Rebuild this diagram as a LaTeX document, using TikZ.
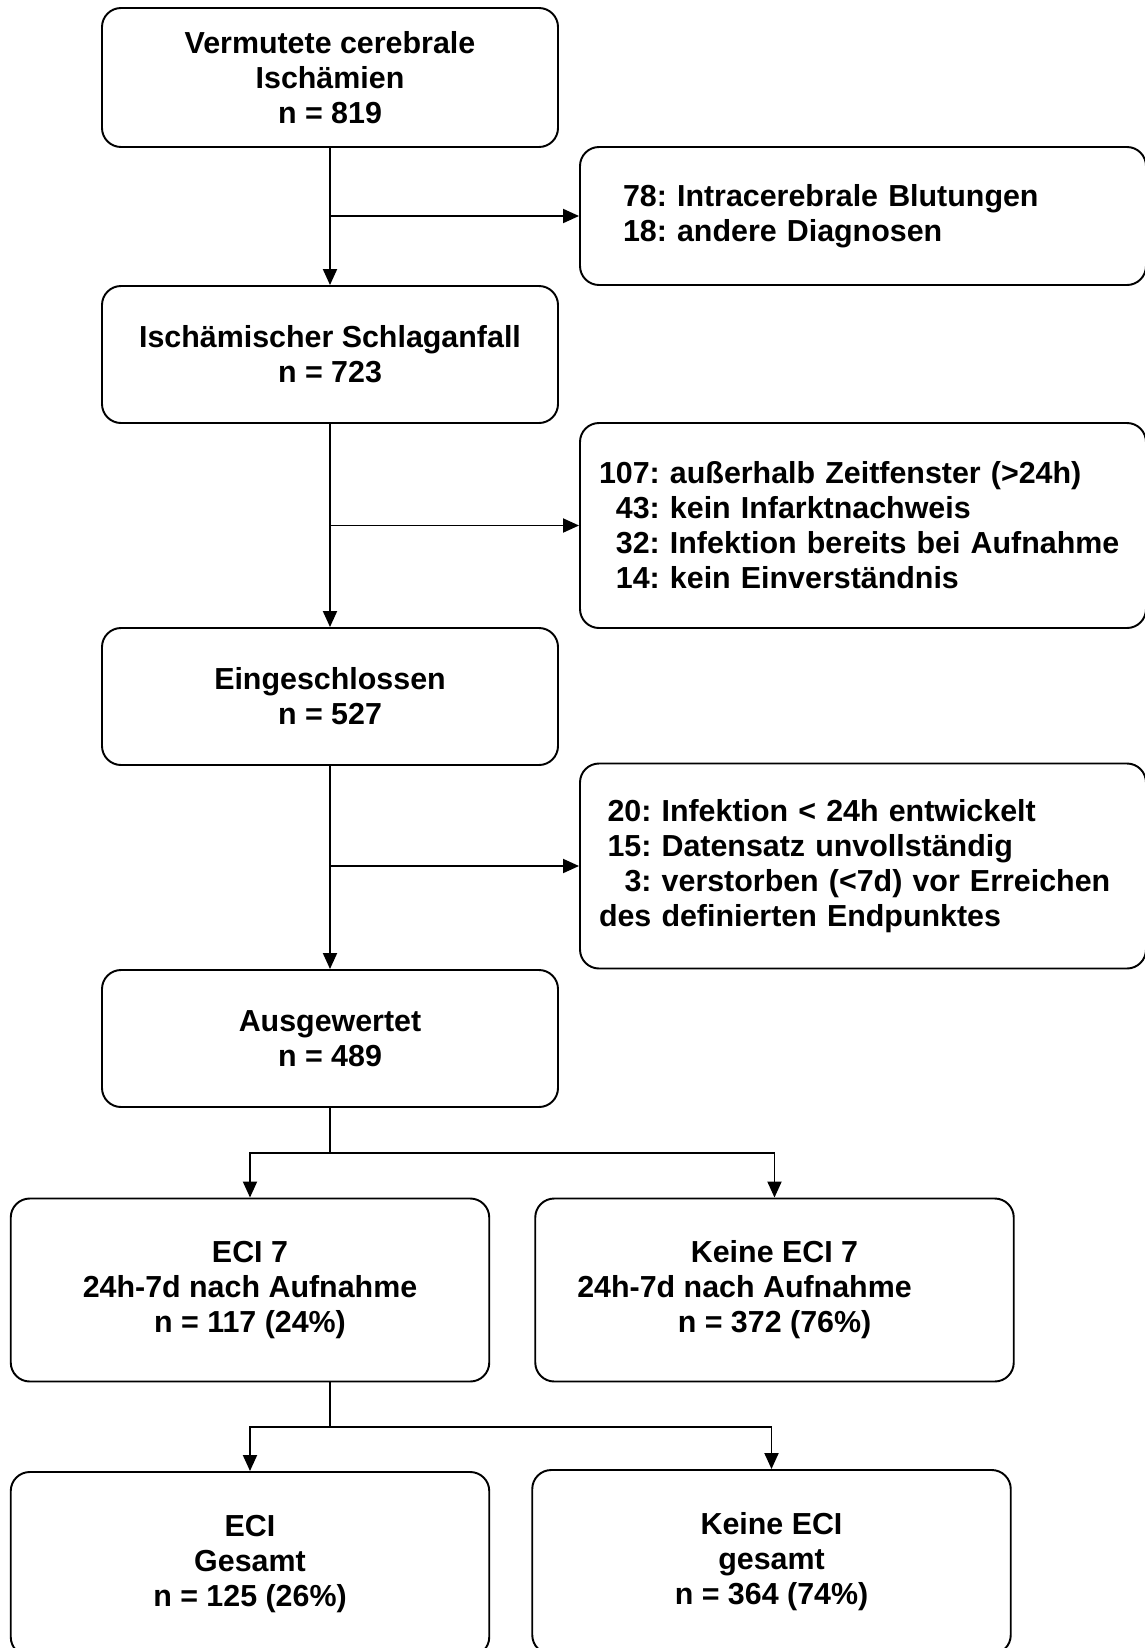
\documentclass[tikz,border=0pt]{standalone}
\usepackage{fontspec}
\setmainfont{Liberation Sans}
\usetikzlibrary{arrows.meta,positioning,calc}

\begin{document}
\begin{tikzpicture}[
    box/.style={draw, line width=1.1pt, rounded corners=0.38cm, align=center,
        font=\fontsize{17.3}{19.9}\selectfont\bfseries\frenchspacing},
    mainbox/.style={box, minimum width=9.12cm, minimum height=2.74cm},
    sidebox/.style={box, align=left, inner xsep=0.38cm, text width=10.56cm, minimum height=4.1cm},
    groupbox/.style={box, minimum width=9.57cm, minimum height=3.66cm},
    flow/.style={line width=1.1pt, -{Triangle[length=0.32cm, width=0.28cm]}},
    link/.style={line width=1.1pt}
]
    \useasboundingbox (0,0) rectangle (22.88,-32.96);

    % ---------------- Main column ----------------
    \node[mainbox, minimum height=2.78cm] (susp) at (6.6,-1.55)
        {Vermutete cerebrale\\Ischämien\\n = 819};
    \node[mainbox] (stroke) at (6.6,-7.09) {Ischämischer Schlaganfall\\n = 723};
    \node[mainbox] (incl) at (6.6,-13.93) {Eingeschlossen\\n = 527};
    \node[mainbox] (eval) at (6.6,-20.77) {Ausgewertet\\n = 489};

    % ---------------- Exclusions ----------------
    \node[sidebox, inner xsep=0.86cm, text width=9.6cm, minimum height=2.76cm] (excl1) at (17.26,-4.32)
        {78: Intracerebrale Blutungen\\18: andere Diagnosen};
    \node[sidebox] (excl2) at (17.26,-10.51)
        {107: außerhalb Zeitfenster (>24h)\\\phantom{1}43: kein Infarktnachweis\\
         \phantom{1}32: Infektion bereits bei Aufnahme\\\phantom{1}14: kein Einverständnis};
    \node[sidebox] (excl3) at (17.26,-17.32)
        {\hspace*{0.28em}20: Infektion < 24h entwickelt\\\hspace*{0.28em}15: Datensatz unvollständig\\
         \hspace*{0.84em}3: verstorben (<7d) vor Erreichen\\des definierten Endpunktes};

    % ---------------- Groups ----------------
    \node[groupbox] (eci7) at (5.0,-25.8) {ECI 7\\24h-7d nach Aufnahme\\n = 117 (24\%)};
    \node[groupbox] (noeci7) at (15.49,-25.8)
        {Keine ECI 7\\24h-7d nach Aufnahme\rule{1.2cm}{0pt}\\n = 372 (76\%)};
    \node[groupbox, minimum height=3.68cm] (eci) at (5.0,-31.28) {ECI\\Gesamt\\n = 125 (26\%)};
    \node[groupbox, minimum height=3.68cm] (noeci) at (15.43,-31.24) {Keine ECI\\gesamt\\n = 364 (74\%)};

    % ---------------- Arrows ----------------
    \draw[flow] (susp) -- (stroke);
    \draw[flow] (stroke) -- (incl);
    \draw[flow] (incl) -- (eval);
    \draw[flow] (susp.south |- excl1.west) -- (excl1.west);
    \draw[flow] (stroke.south |- excl2.west) -- (excl2.west);
    \draw[flow] (incl.south |- excl3.west) -- (excl3.west);

    \coordinate (splitA) at (6.6,-23.06);
    \draw[link] (eval) -- (splitA);
    \draw[flow] (splitA) -| (eci7.north);
    \draw[flow] (splitA) -| (noeci7.north);

    \coordinate (splitB) at (6.6,-28.54);
    \draw[link] (splitB |- eci7.south) -- (splitB);
    \draw[flow] (splitB) -| (eci.north);
    \draw[flow] (splitB) -| (noeci.north);

\end{tikzpicture}
\end{document}
